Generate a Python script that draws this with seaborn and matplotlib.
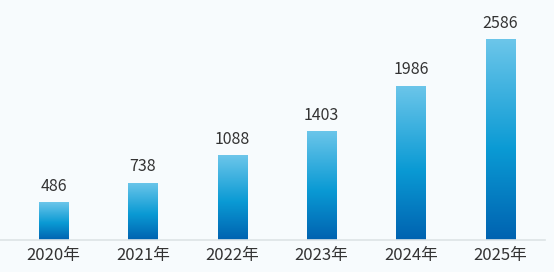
import numpy as np
import pandas as pd
import matplotlib.pyplot as plt
import seaborn as sns
from matplotlib.colors import LinearSegmentedColormap

years = ["2020年", "2021年", "2022年", "2023年", "2024年", "2025年"]
values = [486, 738, 1088, 1403, 1986, 2586]

df = pd.DataFrame({"year": years, "value": values})

sns.set_theme(style="white")
plt.rcParams['font.family'] = ['Noto Sans CJK SC', 'DejaVu Sans']

bg = "#f7fbfd"
fig = plt.figure(figsize=(5.54, 2.72), dpi=100, facecolor=bg)
ax = fig.add_axes([0, 32 / 272, 545 / 554, 240 / 272])
ax.set_facecolor(bg)

sns.barplot(data=df, x="year", y="value", color="#0a9ad4", width=0.325, ax=ax)

# vertical gradient inside each bar
cmap = LinearSegmentedColormap.from_list(
    "bar", [(0, "#0062b0"), (0.45, "#0a9ad4"), (1, "#6cc6ea")])
grad = np.linspace(0, 1, 256).reshape(-1, 1)
for p in ax.patches:
    x0, w, h = p.get_x(), p.get_width(), p.get_height()
    p.set_facecolor("none")
    p.set_edgecolor("none")
    im = ax.imshow(grad, cmap=cmap, origin="lower", aspect="auto",
                   extent=[x0, x0 + w, 0, h], zorder=2)
    im.set_clip_path(p)
    ax.text(x0 + w / 2, h + 95, f"{int(h)}", ha="center", va="bottom",
            fontsize=11.5, color="#333333")

ax.set_xlim(-0.6, 5.5)
ax.set_ylim(0, 3088)
ax.set_xlabel("")
ax.set_ylabel("")
ax.set_yticks([])
for s in ["top", "left", "right"]:
    ax.spines[s].set_visible(False)
ax.spines["bottom"].set_color("#dde3e6")
ax.spines["bottom"].set_linewidth(1.2)
ax.tick_params(axis="x", length=0, pad=5, labelsize=12, labelcolor="#333333")

fig.savefig("out.png", dpi=100, facecolor=bg)
